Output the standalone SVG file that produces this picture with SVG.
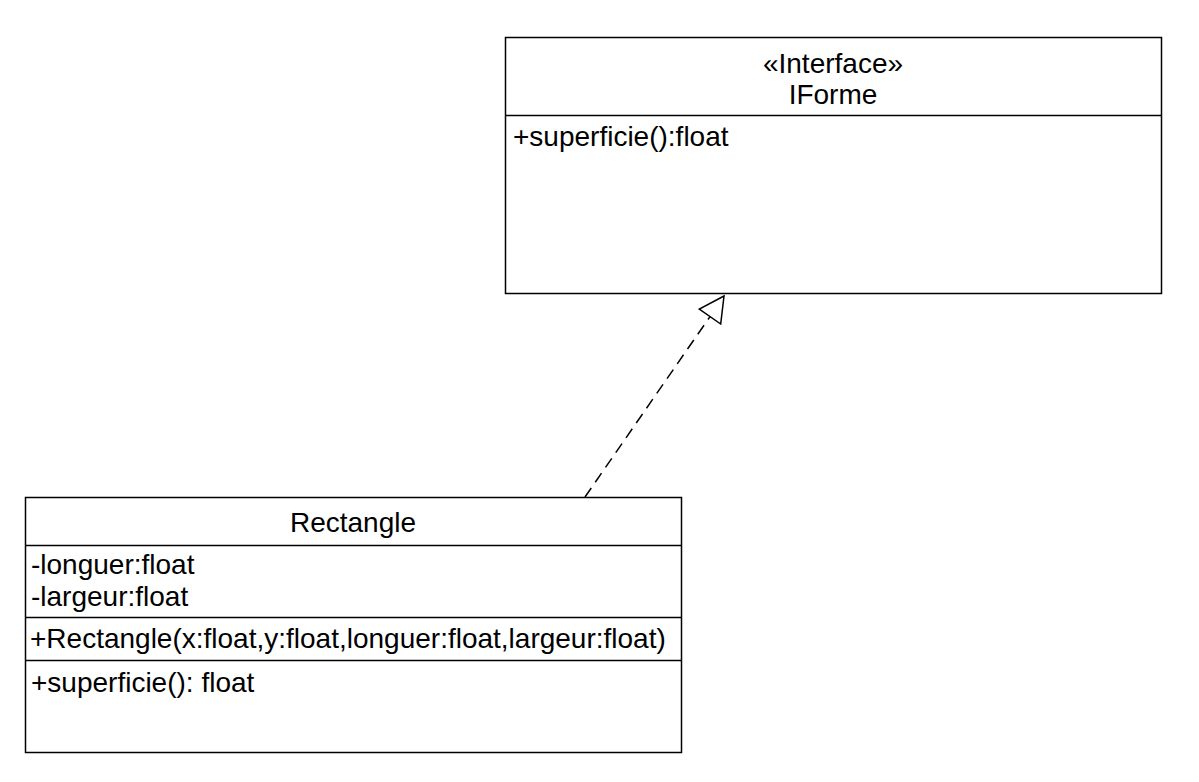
<svg xmlns="http://www.w3.org/2000/svg" width="1199" height="782" viewBox="0 0 1199 782">
<style>
.box{fill:#fff;stroke:#000;stroke-width:1.5}
.ln{stroke:#000;stroke-width:1.5}
text{font-family:"Liberation Sans",Arial,sans-serif;font-size:28px;fill:#000}
.c{text-anchor:middle}
.dash{fill:none;stroke:#000;stroke-width:1.5;stroke-dasharray:11 7}
</style>
<rect width="1199" height="782" fill="#fff"/>
<g id="IForme">
<rect class="box" x="505.5" y="37.5" width="656" height="256"/>
<line class="ln" x1="505.5" y1="115.5" x2="1161.5" y2="115.5"/>
<text class="c" x="833" y="73">«Interface»</text>
<text class="c" x="833" y="104">IForme</text>
<text x="513" y="146">+superficie():float</text>
</g>
<g id="Rectangle">
<rect class="box" x="25.5" y="497.5" width="656" height="255"/>
<line class="ln" x1="25.5" y1="545.5" x2="681.5" y2="545.5"/>
<line class="ln" x1="25.5" y1="617.5" x2="681.5" y2="617.5"/>
<line class="ln" x1="25.5" y1="660.5" x2="681.5" y2="660.5"/>
<text class="c" x="353" y="532">Rectangle</text>
<text x="31" y="574">-longuer:float</text>
<text x="31" y="606">-largeur:float</text>
<text x="30" y="648">+Rectangle(x:float,y:float,longuer:float,largeur:float)</text>
<text x="31" y="692">+superficie(): float</text>
</g>
<g id="connectors">
<line class="dash" x1="585" y1="497" x2="710" y2="316.6"/>
<polygon points="724,296 699.3,309.2 720.7,324" fill="#fff" stroke="#000" stroke-width="1.5"/>
</g>
</svg>
